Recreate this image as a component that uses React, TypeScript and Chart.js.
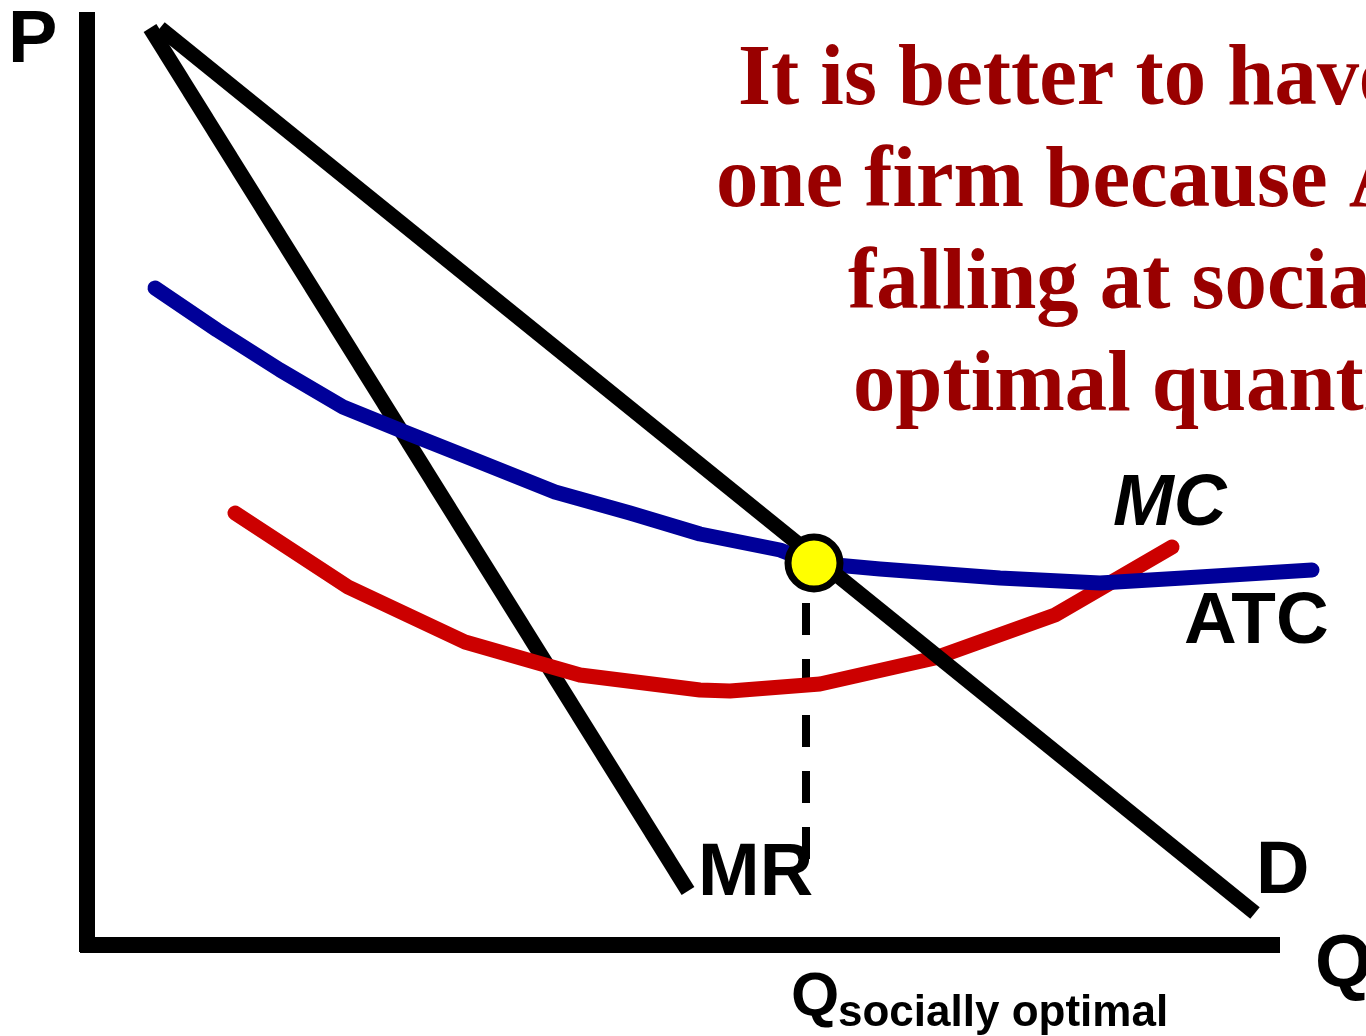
import React, { useEffect, useRef } from "react";
import { Chart, registerables } from "chart.js";

Chart.register(...registerables);

// Curves in economic units (Q along horizontal, P along vertical)
const demandQ = [7.3, 116.8];
const demandP = [91.7, 3.2];

const mrQ = [6.3, 60.1];
const mrP = [91.7, 5.4];

const atcQ = [6.8, 13.0, 19.3, 25.6, 32.0, 38.8, 46.8, 54.3, 61.3, 69.3, 72.7, 79.3, 91.3, 101.3, 109.6, 122.5];
const atcP = [65.7, 61.5, 57.5, 53.8, 51.2, 48.5, 45.3, 43.2, 41.1, 39.5, 38.2, 37.6, 36.7, 36.2, 36.7, 37.5];

const mcQ = [14.8, 26.1, 37.8, 49.3, 61.3, 64.3, 73.3, 84.8, 96.8, 108.5];
const mcP = [43.2, 35.8, 30.3, 27.0, 25.5, 25.4, 26.1, 28.7, 33.0, 39.8];

const optimumQ = [72.7];
const optimumP = [38.2];

const dashQ = [71.9, 71.9];
const dashP = [39.8, 8.5];

const yAxisQ = [0, 0];
const yAxisP = [93.3, -0.7];
const xAxisQ = [-0.7, 119.3];
const xAxisP = [0, 0];

const titleLines = [
  "It is better to have just",
  "one firm because ATC is",
  "falling at socially",
  "optimal quantity",
];

const pts = (xs: number[], ys: number[]) => xs.map((x, i) => ({ x, y: ys[i] }));

const labelsPlugin = {
  id: "labels",
  afterDraw(chart: any) {
    const ctx = chart.ctx as CanvasRenderingContext2D;
    ctx.save();
    ctx.textAlign = "left";
    ctx.textBaseline = "alphabetic";
    // Title (slightly condensed serif)
    ctx.fillStyle = "#990000";
    ctx.font = "bold 86px 'Liberation Serif', 'Times New Roman', serif";
    const tx = [738, 716, 848, 853];
    const ty = [104, 206, 308, 410];
    titleLines.forEach((t, i) => {
      ctx.save();
      ctx.translate(tx[i], ty[i]);
      ctx.scale(0.985, 1);
      ctx.fillText(t, 0, 0);
      ctx.restore();
    });

    ctx.fillStyle = "#000000";
    const sans = "'Liberation Sans', Arial, sans-serif";
    ctx.font = `bold 74px ${sans}`;
    ctx.fillText("P", 8, 62);
    ctx.fillText("MR", 698, 895);
    ctx.fillText("D", 1256, 893);
    ctx.fillText("Q", 1315, 986);
    ctx.font = `bold 73px ${sans}`;
    ctx.fillText("ATC", 1184, 643);
    ctx.font = `italic bold 73px ${sans}`;
    ctx.fillText("MC", 1113, 525);
    ctx.font = `bold 62px ${sans}`;
    ctx.fillText("Q", 791, 1015);
    ctx.font = `bold 44px ${sans}`;
    ctx.fillText("socially optimal", 838, 1026);
    ctx.restore();
  },
};

export default function App() {
  const ref = useRef<HTMLCanvasElement | null>(null);
  useEffect(() => {
    if (!ref.current) return;
    const lineBase = { showLine: true, pointRadius: 0, fill: false, tension: 0, clip: false };
    const chart = new Chart(ref.current, {
      type: "scatter",
      data: {
        datasets: [
          {
            label: "Q*",
            data: pts(optimumQ, optimumP),
            pointRadius: 26,
            pointBorderWidth: 7,
            pointBackgroundColor: "#FFFF00",
            pointBorderColor: "#000000",
            showLine: false,
            clip: false,
            order: 0,
          },
          {
            ...lineBase,
            label: "D",
            data: pts(demandQ, demandP),
            borderColor: "#000000",
            borderWidth: 15,
            borderCapStyle: "butt",
            order: 1,
          },
          {
            ...lineBase,
            label: "ATC",
            data: pts(atcQ, atcP),
            borderColor: "#000099",
            borderWidth: 15,
            borderCapStyle: "round",
            borderJoinStyle: "round",
            order: 2,
          },
          {
            ...lineBase,
            label: "MC",
            data: pts(mcQ, mcP),
            borderColor: "#CC0000",
            borderWidth: 15,
            borderCapStyle: "round",
            borderJoinStyle: "round",
            order: 3,
          },
          {
            ...lineBase,
            label: "dash",
            data: pts(dashQ, dashP),
            borderColor: "#000000",
            borderWidth: 8,
            borderDash: [32, 24],
            borderCapStyle: "butt",
            order: 4,
          },
          {
            ...lineBase,
            label: "MR",
            data: pts(mrQ, mrP),
            borderColor: "#000000",
            borderWidth: 15,
            borderCapStyle: "butt",
            order: 5,
          },
          {
            ...lineBase,
            label: "yaxis",
            data: pts(yAxisQ, yAxisP),
            borderColor: "#000000",
            borderWidth: 16,
            borderCapStyle: "butt",
            order: 6,
          },
          {
            ...lineBase,
            label: "xaxis",
            data: pts(xAxisQ, xAxisP),
            borderColor: "#000000",
            borderWidth: 16,
            borderCapStyle: "butt",
            order: 6,
          },
        ] as any,
      },
      options: {
        responsive: false,
        animation: false,
        devicePixelRatio: 1,
        layout: { padding: 0, autoPadding: false },
        plugins: { legend: { display: false }, tooltip: { enabled: false } },
        scales: {
          x: { type: "linear", min: -8.7, max: 127.9, display: false },
          y: { type: "linear", min: -9.1, max: 94.5, display: false },
        },
      } as any,
      plugins: [labelsPlugin],
    });
    return () => chart.destroy();
  }, []);
  return (
    <div style={{ position: "absolute", left: 0, top: 0, width: 1366, height: 1036, background: "#fff" }}>
      <canvas ref={ref} width={1366} height={1036} style={{ display: "block" }} />
    </div>
  );
}
